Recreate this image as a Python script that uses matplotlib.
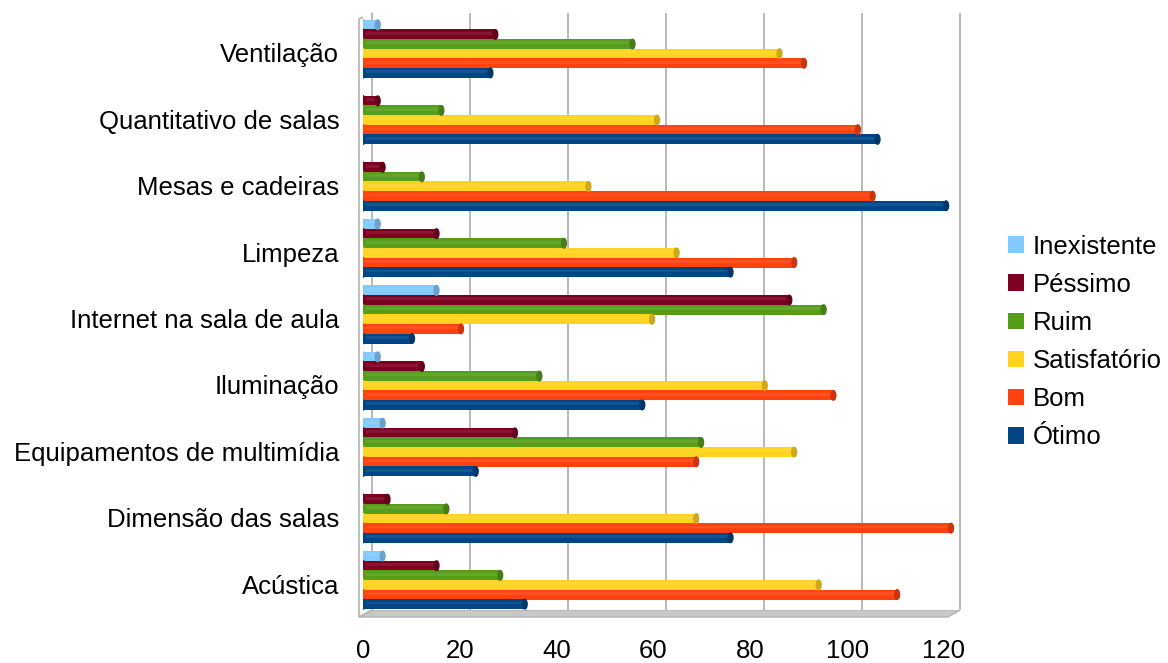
import numpy as np
import matplotlib.pyplot as plt
from matplotlib.patches import Ellipse, Polygon
from matplotlib.colors import to_rgb

plt.rcParams['font.family'] = ['Liberation Sans', 'DejaVu Sans']

# categorias de cima para baixo
categorias = ['Ventilação', 'Quantitativo de salas', 'Mesas e cadeiras', 'Limpeza',
              'Internet na sala de aula', 'Iluminação', 'Equipamentos de multimídia',
              'Dimensão das salas', 'Acústica']

inexistente = [3, 0, 0, 3, 15, 3, 4, 0, 4]
pessimo = [27, 3, 4, 15, 87, 12, 31, 5, 15]
ruim = [55, 16, 12, 41, 94, 36, 69, 17, 28]
satisfatorio = [85, 60, 46, 64, 59, 82, 88, 68, 93]
bom = [90, 101, 104, 88, 20, 96, 68, 120, 109]
otimo = [26, 105, 119, 75, 10, 57, 23, 75, 33]

series = ['Inexistente', 'Péssimo', 'Ruim', 'Satisfatório', 'Bom', 'Ótimo']
valores = [inexistente, pessimo, ruim, satisfatorio, bom, otimo]
cores = ['#83caff', '#7e0021', '#579d1c', '#ffd320', '#ff420e', '#004586']
xticks = [0, 20, 40, 60, 80, 100, 120]

W, H = 1168, 663
ppu = 4.9  # pixels por unidade
x0, ytop, ybot = 363, 13, 610
fig = plt.figure(figsize=(W / 100, H / 100), dpi=100)
ax = fig.add_axes([x0 / W, (H - ybot) / H, 122 * ppu / W, (ybot - ytop) / H])


def mistura(cor, alvo, f):
    c = np.array(to_rgb(cor))
    return tuple(c + (np.array(to_rgb(alvo)) - c) * f)


n = len(categorias)
ypos = np.arange(n)[::-1]  # Ventilação em cima
h = 0.145
cap = 1.0

for k, (nome, vals, cor) in enumerate(zip(series, valores, cores)):
    off = (2.5 - k) * h
    escuro = mistura(cor, 'black', 0.2)
    claro = mistura(cor, 'white', 0.08)
    for y, v in zip(ypos, vals):
        if v <= 0:
            continue
        yc = y + off
        ax.barh(yc, v, height=h * 1.04, color=cor, edgecolor='none', zorder=3)
        ax.barh(yc + h * 0.12, v, height=h * 0.3, color=claro, edgecolor='none', zorder=3)
        ax.add_patch(Ellipse((0, yc), cap, h * 1.04, color=cor, zorder=3))
        ax.add_patch(Ellipse((v, yc), cap, h * 1.0, color=escuro, zorder=4))
    ax.barh([0], [0], color=cor, label=nome)

ax.set_xlim(0, 122)
ax.set_ylim(-0.45, n - 1 + 0.54)

# linhas de grade na parede do fundo (deslocadas pela profundidade 3D)
for t in xticks:
    ax.axvline(t + 1.8, color='#b3b3b3', linewidth=1.3, zorder=0)

ax.set_xticks([t * 0.988 for t in xticks])
ax.set_xticklabels([str(t) for t in xticks], fontsize=18.5)
ax.set_yticks(ypos - 0.06)
ax.set_yticklabels(categorias, fontsize=18.5)
ax.tick_params(axis='both', length=0)
ax.tick_params(axis='x', pad=21)
ax.tick_params(axis='y', pad=17)
for s in ['top', 'right', 'bottom', 'left']:
    ax.spines[s].set_visible(False)


# paredes e piso 3D
def fx(px):
    return px / W


def fy(py):
    return (H - py) / H


piso = Polygon([[fx(372), fy(610)], [fx(960), fy(610)], [fx(948), fy(617)], [fx(359), fy(617)]],
               closed=True, transform=fig.transFigure, facecolor='#c8c8c8',
               edgecolor='#b3b3b3', linewidth=1, zorder=-1)
fig.add_artist(piso)
parede = Polygon([[fx(359), fy(617)], [fx(359), fy(19)], [fx(372), fy(13)], [fx(372), fy(610)]],
                 closed=True, transform=fig.transFigure, facecolor='white',
                 edgecolor='#b3b3b3', linewidth=1.2, zorder=-1)
fig.add_artist(parede)

fig.legend(loc='center left', bbox_to_anchor=(1008 / W, (H - 342) / H),
           frameon=False, fontsize=18.5, handlelength=0.62, handleheight=0.62,
           handletextpad=0.35, labelspacing=0.55, borderpad=0, borderaxespad=0)

fig.savefig('out.png', dpi=100)
